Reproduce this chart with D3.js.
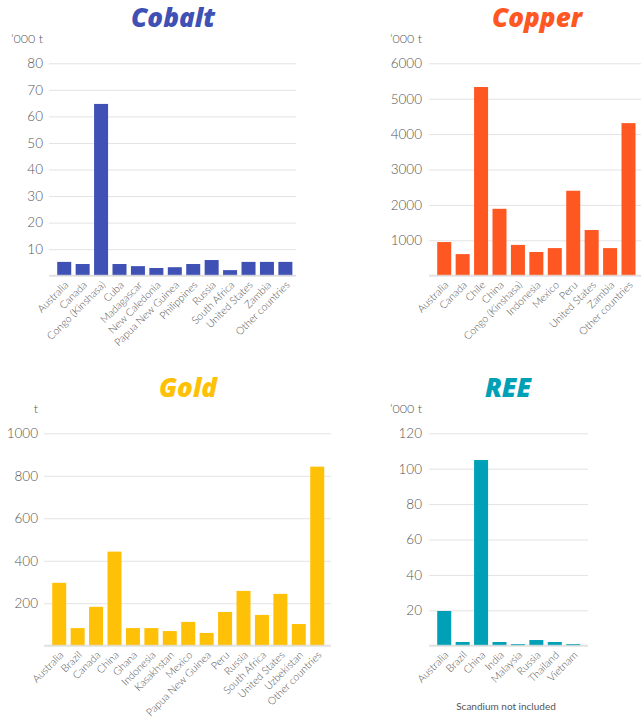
<!DOCTYPE html>
<html>
<head>
<meta charset="utf-8">
<script src="https://cdn.jsdelivr.net/npm/d3@7"></script>
<style>
  html, body { margin: 0; padding: 0; background: #fff; }
  svg { display: block; }
</style>
</head>
<body>
<svg id="chart" width="641" height="717"></svg>
<script>
// ---- data ----
const cobaltCountries = ["Australia","Canada","Congo (Kinshasa)","Cuba","Madagascar","New Caledonia","Papua New Guinea","Philippines","Russia","South Africa","United States","Zambia","Other countries"];
const cobaltValues = [5.2, 4.4, 64.7, 4.4, 3.6, 2.9, 3.2, 4.4, 5.9, 2.1, 5.2, 5.2, 5.2];
const cobaltTicks = [10, 20, 30, 40, 50, 60, 70, 80];

const copperCountries = ["Australia","Canada","Chile","China","Congo (Kinshasa)","Indonesia","Mexico","Peru","United States","Zambia","Other countries"];
const copperValues = [950, 610, 5330, 1890, 870, 670, 780, 2400, 1290, 780, 4310];
const copperTicks = [1000, 2000, 3000, 4000, 5000, 6000];

const goldCountries = ["Australia","Brazil","Canada","China","Ghana","Indonesia","Kasakhstan","Mexico","Papua New Guinea","Peru","Russia","South Africa","United States","Uzbekistan","Other countries"];
const goldValues = [296, 83, 183, 443, 83, 83, 69, 112, 60, 159, 258, 145, 244, 102, 843];
const goldTicks = [200, 400, 600, 800, 1000];

const reeCountries = ["Australia","Brazil","China","India","Malaysia","Russia","Thailand","Vietnam"];
const reeValues = [19.6, 2.1, 104.9, 2.1, 0.9, 3.2, 2.1, 0.9];
const reeTicks = [20, 40, 60, 80, 100, 120];

// ---- drawing ----
const svg = d3.select("#chart");
const FONT = "Lato, 'Open Sans', sans-serif";
const TITLE_FONT = "'Open Sans', Lato, sans-serif";

function panel(cfg) {
  const g = svg.append("g");
  const y = d3.scaleLinear().domain([0, cfg.max]).range([cfg.y0, cfg.y1]);
  const step = 18.43;
  const n = cfg.cats.length;
  const x = d3.scaleBand().domain(cfg.cats)
    .range([cfg.xs + 6, cfg.xs + 6 + n * step])
    .paddingInner(0.24).paddingOuter(0.12);

  // title
  g.append("text")
    .attr("x", cfg.tx).attr("y", cfg.ty)
    .attr("text-anchor", "middle")
    .attr("font-family", TITLE_FONT)
    .attr("font-weight", 800)
    .attr("font-style", "italic")
    .attr("font-size", 26)
    .attr("fill", cfg.color)
    .text(cfg.title);

  // unit
  g.append("text")
    .attr("x", cfg.lx).attr("y", cfg.y1 - 20)
    .attr("text-anchor", "end")
    .attr("font-family", FONT)
    .attr("font-size", 12.5)
    .attr("font-weight", 300)
    .attr("fill", "#555")
    .text(cfg.unit);

  // y axis with gridlines
  const yAxis = d3.axisLeft(y).tickValues(cfg.ticks)
    .tickSize(-(cfg.xe - cfg.xs)).tickPadding(cfg.xs - cfg.lx)
    .tickFormat(d3.format("d"));
  const ga = g.append("g").attr("transform", `translate(${cfg.xs},0)`).call(yAxis);
  ga.select(".domain").remove();
  ga.selectAll(".tick line").attr("stroke", "#e3e3e3").attr("stroke-width", 1);
  ga.selectAll(".tick text")
    .attr("font-family", FONT).attr("font-size", 13.5)
    .attr("font-weight", 300)
    .attr("fill", "#555");

  // bars
  g.append("g").selectAll("rect").data(cfg.vals).join("rect")
    .attr("x", (d, i) => x(cfg.cats[i]))
    .attr("width", x.bandwidth())
    .attr("y", d => y(d))
    .attr("height", d => y(0) - y(d))
    .attr("fill", cfg.color);

  // baseline
  g.append("line")
    .attr("x1", cfg.xs).attr("x2", cfg.xe)
    .attr("y1", y(0)).attr("y2", y(0))
    .attr("stroke", "#dcdcdc").attr("stroke-opacity", 0.85).attr("stroke-width", 2);

  // x labels
  const xAxis = d3.axisBottom(x).tickSize(0).tickPadding(0);
  const gx = g.append("g").attr("transform", `translate(0,${y(0)})`).call(xAxis);
  gx.select(".domain").remove();
  gx.selectAll(".tick text")
    .attr("font-family", FONT).attr("font-size", 10.5)
    .attr("font-weight", 300)
    .attr("fill", "#555")
    .attr("text-anchor", "end")
    .attr("dy", null).attr("y", null)
    .attr("transform", "translate(5,10) rotate(-45)");
  return g;
}

panel({ title: "Cobalt", color: "#3f51b5", cats: cobaltCountries, vals: cobaltValues, ticks: cobaltTicks,
  max: 80, xs: 49, xe: 296, y0: 275.7, y1: 63.3, lx: 43, tx: 173, ty: 27, unit: "\u2019000 t" });
panel({ title: "Copper", color: "#ff5722", cats: copperCountries, vals: copperValues, ticks: copperTicks,
  max: 6000, xs: 429, xe: 641, y0: 275.7, y1: 63.3, lx: 422, tx: 537, ty: 27, unit: "\u2019000 t" });
panel({ title: "Gold", color: "#ffc107", cats: goldCountries, vals: goldValues, ticks: goldTicks,
  max: 1000, xs: 44, xe: 331, y0: 645.7, y1: 433.3, lx: 38, tx: 188, ty: 397, unit: "t" });
panel({ title: "REE", color: "#00a0b7", cats: reeCountries, vals: reeValues, ticks: reeTicks,
  max: 120, xs: 429, xe: 588, y0: 645.7, y1: 433.3, lx: 422, tx: 508, ty: 397, unit: "\u2019000 t" });

svg.append("text")
  .attr("x", 506).attr("y", 710)
  .attr("text-anchor", "middle")
  .attr("font-family", FONT).attr("font-size", 10)
  .attr("fill", "#555")
  .text("Scandium not included");
</script>
</body>
</html>
